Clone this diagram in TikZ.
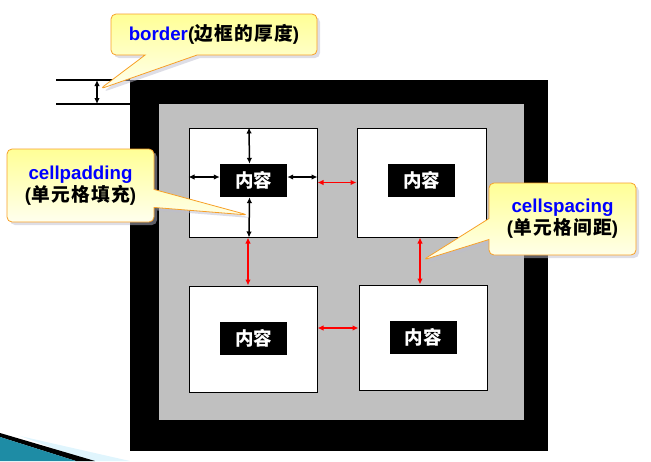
\documentclass[tikz,border=0pt]{standalone}
\usepackage{fontspec}
\setmainfont{Liberation Sans}
\newfontfamily\zhfont{Noto Sans CJK SC}
\newfontfamily\zhwide[LetterSpace=7]{Noto Sans CJK SC}
\newcommand{\zh}[1]{{\zhwide #1}}
\usetikzlibrary{arrows.meta,shapes.callouts,shadows}
\definecolor{tablegray}{RGB}{192,192,192}
\definecolor{tipborder}{RGB}{247,160,40}
\definecolor{tipyellow}{RGB}{255,255,150}
\definecolor{tipwhite}{RGB}{255,255,238}
\definecolor{swoosh}{RGB}{30,140,165}
\tikzset{
  cellbox/.style={draw=black,fill=white,line width=1pt,inner sep=0pt},
  content/.style={fill=black,text=white,inner sep=0pt,minimum width=67pt,minimum height=33pt,
    font=\zhfont\bfseries\fontsize{18.5}{20}\selectfont},
  padarrow/.style={{Latex[length=6pt,width=5.5pt]}-{Latex[length=6pt,width=5.5pt]},line width=1.5pt},
  spacearrow/.style={padarrow,red},
  tip/.style={rectangle callout,rounded corners=5pt,draw=tipborder,line width=0.8pt,
    top color=tipyellow,bottom color=tipwhite,align=center,inner sep=0pt,
    font=\bfseries\fontsize{18.7}{22}\selectfont,
    drop shadow={shadow xshift=3pt,shadow yshift=-3pt,fill=blue!15!gray!45}},
}
\begin{document}
\begin{tikzpicture}[x=1pt,y=-1pt]
  \useasboundingbox (0,0) rectangle (651,461);
  % slide corner
  \fill[cyan!12] (20,436) -- (130,461) -- (88,461) -- cycle;
  \fill[black] (0,433) -- (95,461) -- (76,461) -- (0,437) -- cycle;
  \fill[swoosh] (0,437) -- (76,461) -- (0,461) -- cycle;
  % table
  \node[fill=black,inner sep=0pt,minimum width=418pt,minimum height=371pt] (frame) at (339,265.5) {};
  \node[fill=tablegray,inner sep=0pt,minimum width=365pt,minimum height=316pt] (table) at (341.5,262) {};
  \node[cellbox,minimum width=128pt,minimum height=109pt] (cell1) at (253,182.5) {};
  \node[cellbox,minimum width=129pt,minimum height=109pt] (cell2) at (421.5,182.5) {};
  \node[cellbox,minimum width=128pt,minimum height=106pt] (cell3) at (253,339) {};
  \node[cellbox,minimum width=128pt,minimum height=105pt] (cell4) at (423,337.5) {};
  \node[content] (con1) at (253.5,180.5) {内容};
  \node[content] (con2) at (421.5,180.5) {内容};
  \node[content] (con3) at (253.5,338) {内容};
  \node[content] (con4) at (423,337) {内容};
  % border
  \coordinate (btop) at (56,80);
  \coordinate (bbot) at (56,104);
  \coordinate (bup) at (97,80);
  \coordinate (bdown) at (97,104);
  \draw[line width=1.5pt] (btop) -- (btop -| frame.west);
  \draw[line width=1.5pt] (bbot) -- (bbot -| frame.west);
  \draw[padarrow] (bup) -- (bdown);
  % cellpadding
  \draw[padarrow] ([xshift=-4pt]cell1.north) -- ([xshift=-4pt]con1.north);
  \draw[padarrow] ([xshift=-4pt]con1.south) -- ([xshift=-4pt]cell1.south);
  \draw[padarrow] ([yshift=3.5pt]con1.west) -- ([yshift=3.5pt]con1.west -| cell1.west);
  \draw[padarrow] ([yshift=3.5pt]con1.east) -- ([yshift=3.5pt]con1.east -| cell1.east);
  % cellspacing
  \draw[spacearrow] (cell1.east) -- (cell2.west);
  \draw[spacearrow] ([xshift=-5pt]cell1.south) -- ([xshift=-5pt]cell1.south |- cell3.north);
  \draw[spacearrow] ([xshift=-1.5pt]cell2.south) -- ([xshift=-1.5pt]cell2.south |- cell4.north);
  \draw[spacearrow] ([yshift=11pt]cell3.east) -- ([yshift=11pt]cell3.east -| cell4.west);
  % notes
  \coordinate (bordertip) at (100,89);
  \coordinate (paddingtip) at (248,215);
  \coordinate (spacingtip) at (423,260);
  \node[tip,minimum width=206pt,minimum height=41pt,callout pointer width=52pt,
    callout absolute pointer={(bordertip)}] (bordernote) at (214,34.5)
    {{\color{blue}border}(\zh{边框的厚度})};
  \node[tip,minimum width=147pt,minimum height=73pt,callout pointer width=18pt,
    callout absolute pointer={(paddingtip)}] (paddingnote) at (80.5,185.5)
    {{\color{blue}cellpadding}\\(\zh{单元格填充})};
  \node[tip,minimum width=147pt,minimum height=72pt,callout pointer width=21pt,
    callout absolute pointer={(spacingtip)}] (spacingnote) at (562.5,219)
    {{\color{blue}cellspacing}\\(\zh{单元格间距})};
\end{tikzpicture}
\end{document}
